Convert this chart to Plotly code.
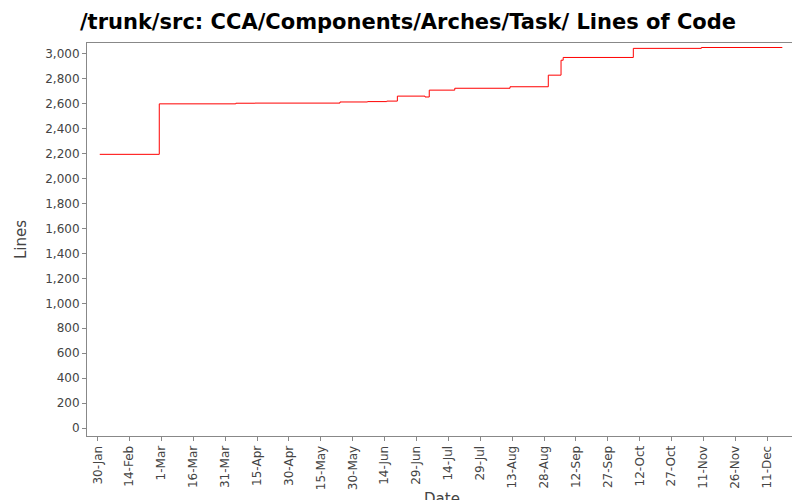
import pandas as pd
import plotly.graph_objs as go

dates = ['2006-01-31', '2006-02-28', '2006-04-05', '2006-04-14', '2006-05-24', '2006-06-06',
         '2006-06-15', '2006-06-20', '2006-07-03', '2006-07-05', '2006-07-17', '2006-08-12',
         '2006-08-30', '2006-09-05', '2006-09-06', '2006-10-09', '2006-11-10', '2006-12-18']
lines = [2195, 2600, 2605, 2606, 2615, 2618, 2622, 2662, 2655, 2710, 2725, 2737,
         2830, 2950, 2972, 3045, 3052, 3055]

tick_dates = pd.date_range('2006-01-30', '2006-12-11', freq='15D')
tick_text = [d.strftime('%d-%b').lstrip('0') for d in tick_dates]

fig = go.Figure()
fig.add_trace(go.Scatter(
    x=pd.to_datetime(dates), y=lines, mode='lines', line_shape='hv',
    line=dict(color='#ff0000', width=1), showlegend=False
))

fig.update_layout(
    width=800, height=500,
    paper_bgcolor='white', plot_bgcolor='white',
    font=dict(family='DejaVu Sans', size=12, color='#444444'),
    title=dict(text='<b>/trunk/src: CCA/Components/Arches/Task/ Lines of Code</b>',
               x=0.5, xanchor='center', y=0.972, yanchor='middle',
               font=dict(size=21, color='black')),
    margin=dict(l=79, r=11, t=35, b=72),
    xaxis=dict(
        range=['2006-01-25', '2006-12-25'], tickvals=tick_dates, ticktext=tick_text,
        tickangle=-90, showgrid=False, showline=True, linecolor='#888888', mirror=True,
        ticks='outside', ticklen=4, tickcolor='#888888', automargin=False,
        title=dict(text='Date', standoff=10, font=dict(size=15, color='#444444')),
    ),
    yaxis=dict(
        range=[-64, 3088], tickvals=list(range(0, 3001, 200)), tickformat=',',
        showgrid=False, showline=True, linecolor='#888888', mirror=True,
        ticks='outside', ticklen=4, tickcolor='#888888', automargin=False,
        title=dict(text='Lines', standoff=14, font=dict(size=15, color='#444444')),
    ),
)

fig.write_html("out.html")
